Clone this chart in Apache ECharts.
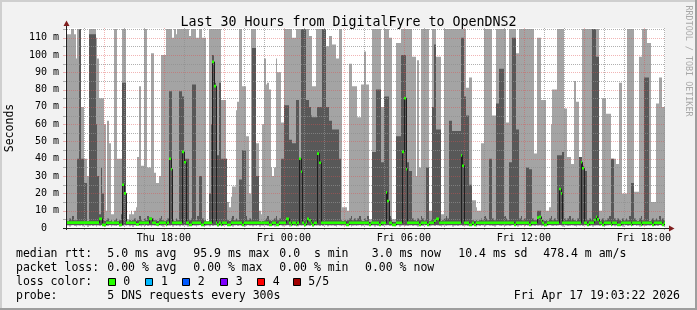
<!DOCTYPE html>
<html><head><meta charset="utf-8">
<script src="https://cdn.jsdelivr.net/npm/echarts@6/dist/echarts.min.js"></script>
<style>html,body{margin:0;padding:0;background:#f2f2f2}#c{width:697px;height:310px}</style>
</head><body><div id="c"></div>
<script>
const FONT = '"DejaVu Sans Mono", monospace';
const stepMinutes = 5;
const firstBinMinute = 13 * 60 + 5;            // Thu 13:05 (minutes since Thu 00:00)
const axisStartHour = 13 + 3 / 60 + 22 / 3600; // Thu 13:03:22
const axisEndHour = axisStartHour + 30;        // Fri 19:03:22
const yMaxMs = 115.6;

// five sorted pings per step (ms): min, 2nd, median, 4th, max
const minPing = [
1.2,1.5,0.8,1.4,1.6,1.1,0.9,1.5,1.3,1.6,1.0,1.4,
1.5,0.7,1.3,1.6,1.2,1.4,0.9,1.5,1.1,1.6,1.3,0.8,
1.4,1.2,1.6,0.9,1.5,1.3,1.1,1.6,0.8,1.4,1.2,1.5,
1.3,1.6,1.0,1.4,0.7,1.5,1.2,1.6,1.3,0.9,1.5,1.1,
1.6,1.2,1.4,0.8,1.5,1.3,1.6,1.0,1.4,1.2,0.9,1.5,
1.1,1.5,1.3,1.6,0.8,1.4,1.2,1.5,1.0,1.6,1.3,1.4,
1.4,0.9,1.6,1.2,1.5,1.3,0.8,1.4,1.6,1.1,1.5,1.2,
1.3,1.5,1.0,1.6,1.2,1.4,1.5,0.9,1.3,1.6,1.1,1.4,
1.6,1.2,1.5,1.3,0.8,1.4,1.6,1.1,1.5,1.2,1.4,0.9,
1.2,1.6,1.3,1.5,1.0,1.4,1.2,1.6,0.8,1.5,1.3,1.4,
1.5,1.1,1.4,1.6,1.3,0.9,1.5,1.2,1.6,1.4,1.0,1.3,
1.4,1.6,0.8,1.3,1.5,1.2,1.6,1.0,1.4,1.3,1.5,1.1,
1.3,1.5,1.2,1.6,0.9,1.4,1.3,1.5,1.1,1.6,1.2,1.4,
1.6,1.0,1.4,1.3,1.5,1.2,0.8,1.6,1.4,1.1,1.5,1.3,
1.2,1.4,1.6,0.9,1.3,1.5,1.2,1.4,1.6,1.0,1.3,1.5,
1.5,1.3,1.1,1.6,1.4,0.8,1.5,1.2,1.3,1.6,1.1,1.4,
1.4,1.6,1.2,1.3,1.5,1.0,1.4,1.6,0.9,1.3,1.5,1.2,
1.3,1.1,1.5,1.6,1.2,1.4,1.3,0.8,1.6,1.5,1.2,1.4,
1.6,1.4,1.0,1.3,1.5,1.2,1.6,1.4,1.1,0.9,1.5,1.3,
1.2,1.5,1.4,1.6,0.8,1.3,1.5,1.2,1.4,1.6,1.1,1.3,
1.5,1.2,1.6,1.1,1.4,1.3,0.9,1.5,1.2,1.6,1.4,1.0,
1.4,1.6,1.3,1.5,1.2,0.8,1.4,1.6,1.3,1.1,1.5,1.2,
1.3,1.5,1.1,1.4,1.6,1.2,1.5,0.9,1.4,1.3,1.6,1.2,
1.6,1.3,1.5,1.0,1.4,1.2,1.6,1.3,1.5,0.8,1.2,1.4,
1.2,1.4,1.6,1.3,1.1,1.5,1.2,1.4,1.6,1.3,0.9,1.5,
1.5,1.1,1.3,1.6,1.4,1.2,0.8,1.5,1.3,1.6,1.2,1.4,
1.4,1.6,1.2,1.5,0.9,1.3,1.5,1.4,1.1,1.6,1.3,1.2,
1.3,1.5,1.6,1.2,1.4,1.0,1.3,1.5,1.6,1.2,0.8,1.4,
1.6,1.2,1.4,1.5,1.3,1.6,1.1,1.4,0.9,1.5,1.3,1.2,
1.2,1.5,1.3,1.6,1.4,1.1,1.5,1.2,1.6,1.3,1.4,0.9];

const secondPing = [
1.8,1.7,1.8,1.8,1.7,1.8,1.7,1.8,1.8,1.7,1.8,1.7,
1.7,1.8,1.8,1.7,1.8,1.7,1.8,1.7,1.8,1.8,1.7,1.8,
1.8,1.8,1.7,1.8,1.7,1.8,1.8,1.7,1.8,1.7,1.8,1.8,
1.7,1.8,1.8,1.7,1.8,1.7,1.8,1.8,1.7,1.8,1.7,1.8,
1.8,1.7,1.8,1.8,1.7,1.8,1.7,1.8,1.8,1.7,1.8,1.7,
1.7,1.8,1.7,1.8,1.8,1.7,1.8,1.7,1.8,1.8,1.7,1.8,
1.8,1.8,1.7,1.8,1.7,1.8,1.8,1.7,1.8,1.7,1.8,1.8,
1.7,1.8,1.8,1.7,1.8,1.7,1.8,1.8,1.7,1.8,1.7,1.8,
1.8,1.7,1.8,1.8,1.7,1.8,1.7,1.8,1.8,1.7,1.8,1.7,
1.7,1.8,1.7,1.8,1.8,1.7,1.8,1.7,1.8,1.8,1.7,1.8,
1.8,1.8,1.7,1.8,1.7,1.8,1.8,1.7,1.8,1.7,1.8,1.8,
1.7,1.8,1.8,1.7,1.8,1.7,1.8,1.8,1.7,1.8,1.7,1.8,
1.8,1.7,1.8,1.8,1.7,1.8,1.7,1.8,1.8,1.7,1.8,1.7,
1.7,1.8,1.7,1.8,1.8,1.7,1.8,1.7,1.8,1.8,1.7,1.8,
1.8,1.8,1.7,1.8,1.7,1.8,1.8,1.7,1.8,1.7,1.8,1.8,
1.7,1.8,1.8,1.7,1.8,1.7,1.8,1.8,1.7,1.8,1.7,1.8,
1.8,1.7,1.8,1.8,1.7,1.8,1.7,1.8,1.8,1.7,1.8,1.7,
1.7,1.8,1.7,1.8,1.8,1.7,1.8,1.7,1.8,1.8,1.7,1.8,
1.8,1.8,1.7,1.8,1.7,1.8,1.8,1.7,1.8,1.7,1.8,1.8,
1.7,1.8,1.8,1.7,1.8,1.7,1.8,1.8,1.7,1.8,1.7,1.8,
1.8,1.7,1.8,1.8,1.7,1.8,1.7,1.8,1.8,1.7,1.8,1.7,
1.7,1.8,1.7,1.8,1.8,1.7,1.8,1.7,1.8,1.8,1.7,1.8,
1.8,1.8,1.7,1.8,1.7,1.8,1.8,1.7,1.8,1.7,1.8,1.8,
1.7,1.8,1.8,1.7,1.8,1.7,1.8,1.8,1.7,1.8,1.7,1.8,
1.8,1.7,1.8,1.8,1.7,1.8,1.7,1.8,1.8,1.7,1.8,1.7,
1.7,1.8,1.7,1.8,1.8,1.7,1.8,1.7,1.8,1.8,1.7,1.8,
1.8,1.8,1.7,1.8,1.7,1.8,1.8,1.7,1.8,1.7,1.8,1.8,
1.7,1.8,1.8,1.7,1.8,1.7,1.8,1.8,1.7,1.8,1.7,1.8,
1.8,1.7,1.8,1.8,1.7,1.8,1.7,1.8,1.8,1.7,1.8,1.7,
1.7,1.8,1.7,1.8,1.8,1.7,1.8,1.7,1.8,1.8,1.7,1.8];

const medianPing = [
3.1,3.1,3.1,3.1,3.1,3.1,3.1,3.1,3.1,3.1,3.1,3.1,
3.1,3.1,3.1,3.1,3.1,3.1,3.1,3.1,5.3,5.3,1.8,1.8,
3.0,3.0,3.0,3.0,3.0,3.0,3.0,3.0,1.8,1.8,25,20,
3.0,3.0,3.0,3.0,3.0,3.0,2.1,2.1,3.0,3.0,3.0,3.0,
3.0,3.0,5.3,5.3,3.0,3.0,2.1,2.1,3.0,3.0,3.0,3.0,
1.8,3.0,40,34,3.0,3.0,3.0,3.0,3.0,3.0,44,38,
3.0,3.0,1.8,1.8,3.0,3.0,3.0,3.0,3.0,1.8,1.8,3.0,
3.0,3.0,3.0,3.0,96,82,3.0,1.8,3.0,1.8,3.0,3.0,
3.0,1.8,1.8,3.0,3.0,3.0,3.0,3.0,3.0,3.0,1.8,3.0,
3.0,3.0,3.0,3.0,3.0,3.0,3.0,3.0,3.0,3.0,3.0,3.0,
3.0,3.0,1.8,1.8,3.0,3.0,1.8,1.8,3.0,3.0,3.0,3.0,
5.3,5.3,3.0,1.8,3.0,3.0,1.8,3.0,40,32.5,3.0,1.8,
3.0,5.3,4.5,3.0,1.8,3.0,3.0,43,37.7,3.0,3.0,3.0,
3.0,3.0,3.0,3.0,3.0,3.0,3.0,3.0,3.0,3.0,3.0,3.0,
1.8,1.8,3.0,3.0,3.0,3.0,3.0,3.0,3.0,3.0,3.0,3.0,
3.0,3.0,1.8,3.0,3.0,3.0,3.0,3.0,1.8,3.0,3.0,3.0,
20.6,15.6,3.0,3.0,1.8,1.8,3.0,3.0,3.0,3.0,44,75,
34,3.0,3.0,3.0,3.0,3.0,3.0,3.0,1.8,3.0,3.0,3.0,
3.0,1.8,3.0,3.0,3.0,4.2,5.3,5.3,3.0,3.0,3.0,3.0,
3.0,3.0,3.0,3.0,3.0,3.0,3.0,3.0,3.0,42,36,3.0,
3.0,3.0,1.8,1.8,3.0,1.8,3.0,3.0,3.0,3.0,3.0,3.0,
3.0,3.0,3.0,3.0,3.0,3.0,3.0,3.0,3.0,3.0,3.0,3.0,
3.0,3.0,3.0,3.0,3.0,1.8,3.0,3.0,3.0,3.0,3.0,3.0,
3.0,3.0,1.8,3.0,3.0,3.0,3.0,6.0,6.5,4.5,3.0,1.8,
1.8,3.0,3.0,3.0,3.0,3.0,3.0,3.0,22.5,20,3.0,3.0,
3.0,3.0,3.0,3.0,3.0,3.0,3.0,3.0,3.0,38,34.5,3.0,
3.0,1.8,3.0,3.0,3.0,4.6,6.5,5.0,3.0,3.0,1.8,3.0,
3.0,3.0,3.0,1.8,3.0,3.0,3.0,1.8,1.8,3.0,3.0,3.0,
3.0,3.0,3.0,1.8,3.0,3.0,3.0,3.0,3.0,1.8,3.0,3.0,
3.0,3.0,3.0,3.0,1.8,3.0,3.0,3.0,3.0,3.0,1.8,3.0];

const fourthPing = [
4.5,4,5.5,4.5,7,4.5,4.5,40,115,40,40,26,
26,4,112,112,112,112,60,30,8,35,20,4,
4.5,5.5,4,4.5,3.5,4.5,5.5,4,4.5,8,84,84,
3.5,3.5,4.5,4,4.5,5.5,4,4.5,7,4.5,4,5.5,
4.5,7,6,6,5.5,4.5,4.5,4,5.5,7,4.5,4,
4.5,5.5,79,79,4.5,4,5.5,4.5,79,79,76,40,
40,40,4.5,5.5,83,83,4.5,7,30,30,5.5,4.5,
3.6,3.6,20,60,100,84,42,42,84,40,40,40,
40,4.5,4,5.5,7,4.5,5.5,4.5,28,28,45,45,
7,4.5,5.5,4.5,104,104,30,30,4,3.5,4,4.5,
5.5,7,4.5,4,4.5,5.5,7,4.5,5.5,40,40,71,
71,71,51,51,49,49,74,74,40,115,115,115,
74,74,70,65,64,64,64,70,70,70,115,115,
70,70,62,62,57,57,57,57,40,4.5,4,4.5,
4,4.5,5.5,7,4.5,5.5,4.5,5.5,7,4.5,4,5.5,
4.5,7,3.5,3.5,44,44,80,80,80,38,38,76,
76,76,7,5.5,3.5,3.5,53,53,53,100,100,100,
38,38,33,33,5.5,4.5,4,5.5,4.5,7,5.5,4.5,
35,35,4,4.5,70,106,57,57,57,4,4.5,5.5,
7,5.5,62,62,56,56,56,56,56,110,110,76,
65,65,25,25,4.5,4,4.5,4,4.5,5.5,4.5,7,
5.5,4.5,40,40,5.5,4.5,72,72,92,92,92,7,
5.5,4.5,38,38,110,110,57,57,5.5,7,4.5,5.5,
35,35,34,34,5.5,4.5,4.5,10,10,5.5,4.5,4,
4.5,4,5.5,7,4.5,5.5,4.5,42,42,42,44,5.5,
4.5,5.5,7,4.5,5.5,4.5,4,5.5,41,41,36,33,
33,4.5,5.5,4.5,115,115,99,99,4,4.5,5.5,4.5,
4.5,5.5,7,40,40,5.5,4.5,5.5,4.5,4,5.5,4.5,
5.5,4.5,7,26,26,5.5,4.5,4,5.5,7,4.5,87,
87,87,4,4.5,5.5,4.5,5.5,4.5,7,4.5,5.5,4.5];

const maxPing = [
84,112,112,115,115,112,98,115,115,70,70,40,
40,30,115,115,115,115,110,98,75,75,75,60,
10,62,49,8,8,115,115,40,40,40,115,115,
5,5,8,10,8,10,12,41,82,36,36,115,
115,35,35,101,101,32,26,26,30,100,100,100,
115,115,115,115,110,115,112,115,115,115,115,115,
115,115,111,115,115,115,110,110,115,115,110,110,
4,4,115,115,115,115,115,115,115,74,74,74,
40,15,12,18,24,24,68,73,115,115,82,82,
53,53,20,115,115,115,49,49,10,8,60,98,
83,84,80,35,30,35,98,90,90,61,61,115,
115,115,115,115,110,110,115,115,115,115,115,115,
115,115,111,111,82,82,115,115,115,115,115,115,
105,105,111,111,106,106,98,98,115,115,12,12,
12,10,95,95,82,82,82,64,64,83,83,102,
83,83,5,5,115,115,115,115,115,70,70,115,
115,115,110,110,5,5,107,107,107,115,115,115,
115,115,115,115,99,99,30,97,35,115,115,115,
115,115,10,10,115,115,99,99,99,8,8,115,
115,115,115,115,115,115,115,115,115,115,115,115,
81,81,87,87,16,16,12,10,10,49,49,115,
115,115,115,115,65,65,115,115,115,115,115,115,
61,61,115,115,115,115,101,101,115,115,115,115,
115,115,115,115,115,43,43,110,110,74,74,74,
10,10,12,60,80,80,80,115,115,115,115,69,
69,41,41,37,37,85,73,73,41,41,115,115,
115,115,115,115,115,115,115,115,10,10,75,75,
66,66,66,40,40,40,37,37,84,84,20,20,
20,115,115,115,115,21,21,21,99,99,115,115,
115,107,107,15,15,15,72,72,87,87,70,70];

const xTickHours = [18, 24, 30, 36, 42];
const xTickLabels = ['Thu 18:00', 'Fri 00:00', 'Fri 06:00', 'Fri 12:00', 'Fri 18:00'];
const minorGridHours = [14,16,17,19,20,22,23,25,26,28,29,31,32,34,35,37,38,40,41,43];
const majorGridHours = [15,18,21,24,27,30,33,36,39,42];
const minorGridMs = [5,15,25,35,45,55,65,75,85,95,105,115];
const majorGridMs = [10,20,30,40,50,60,70,80,90,100,110];

const lossColors = ['#26ff00', '#00b8ff', '#0059ff', '#7e00ff', '#ff0000', '#a10000'];
const lossLabels = ['0', '1', '2', '3', '4', '5/5'];

const binStart = k => (firstBinMinute + k * stepMinutes) / 60;
const smokeData = maxPing.map((v, k) => [binStart(k), binStart(k + 1), minPing[k], secondPing[k], fourthPing[k], v]);
const medData = medianPing.map((m, k) => [binStart(k), binStart(k + 1), m, k > 0 ? medianPing[k - 1] : m]);

function renderSmoke(params, api) {
  const a = api.coord([api.value(0), api.value(2)]);
  const b = api.coord([api.value(1), api.value(5)]);
  const c = api.coord([api.value(0), api.value(3)]);
  const d = api.coord([api.value(1), api.value(4)]);
  const xl = Math.round(a[0]), xr = Math.round(b[0]);
  return { type: 'group', children: [
    { type: 'rect', shape: { x: xl, y: b[1], width: xr - xl, height: a[1] - b[1] }, style: { fill: '#a4a4a4' } },
    { type: 'rect', shape: { x: xl, y: d[1], width: xr - xl, height: c[1] - d[1] }, style: { fill: '#585858' } }
  ]};
}
function renderMedLine(params, api) {
  const p = api.coord([api.value(0), api.value(2)]);
  const q = api.coord([api.value(1), api.value(2)]);
  const r = api.coord([api.value(0), api.value(3)]);
  const x0 = Math.round(p[0]) + 0.5, x1 = Math.round(q[0]) + 0.5;
  return { type: 'polyline', shape: { points: [[x0, r[1]], [x0, p[1]], [x1, p[1]]] },
           style: { stroke: '#202020', lineWidth: 1, fill: null } };
}
function renderMedBand(params, api) {
  const p = api.coord([api.value(0), api.value(2)]);
  const q = api.coord([api.value(1), api.value(2)]);
  const xl = Math.round(p[0]), xr = Math.round(q[0]);
  return { type: 'rect', shape: { x: xl, y: p[1] - 1.3, width: xr - xl, height: 2.6 }, style: { fill: lossColors[0] } };
}
function vGrid(color) {
  return function (params, api) {
    const top = api.coord([api.value(0), yMaxMs]);
    const bot = api.coord([api.value(0), 0]);
    const x = Math.round(bot[0]) + 0.5;
    return { type: 'group', children: [
      { type: 'line', shape: { x1: x, y1: top[1], x2: x, y2: bot[1] }, style: { stroke: color, lineWidth: 1, lineDash: [1, 1] } },
      { type: 'line', shape: { x1: x, y1: bot[1], x2: x, y2: bot[1] + 2 }, style: { stroke: color, lineWidth: 1 } }
    ]};
  };
}
function hGrid(color) {
  return function (params, api) {
    const l = api.coord([axisStartHour, api.value(1)]);
    const r = api.coord([axisEndHour, api.value(1)]);
    const y = Math.round(l[1]) + 0.5;
    return { type: 'group', children: [
      { type: 'line', shape: { x1: l[0], y1: y, x2: r[0], y2: y }, style: { stroke: color, lineWidth: 1, lineDash: [1, 1] } },
      { type: 'line', shape: { x1: l[0] - 2, y1: y, x2: l[0], y2: y }, style: { stroke: color, lineWidth: 1 } }
    ]};
  };
}
const GRID_MINOR = 'rgba(143,143,143,0.7)';
const GRID_MAJOR = 'rgba(222,79,79,0.42)';

const legendFont = '11.5px ' + FONT;
function txt(x, y, text, extra) {
  return Object.assign({ type: 'text', x: x, y: y, style: { text: text, font: legendFont, fill: '#000', textAlign: 'left', textVerticalAlign: 'middle', align: 'left', verticalAlign: 'middle' } }, extra || {});
}
const swatchX = [108.5, 145.5, 182.5, 220.5, 257.5, 293.5];
const swatchLabelX = [123.3, 161, 197.7, 235.7, 272.7, 308.3];

const graphics = [
  { type: 'rect', shape: { x: 0, y: 0, width: 697, height: 2 }, style: { fill: '#cfcfcf' } },
  { type: 'rect', shape: { x: 0, y: 0, width: 2, height: 310 }, style: { fill: '#cfcfcf' } },
  { type: 'rect', shape: { x: 0, y: 308, width: 697, height: 2 }, style: { fill: '#9e9e9e' } },
  { type: 'rect', shape: { x: 695, y: 0, width: 2, height: 310 }, style: { fill: '#9e9e9e' } },
  { type: 'line', shape: { x1: 63, y1: 228.5, x2: 669, y2: 228.5 }, style: { stroke: '#1f1f1f', lineWidth: 1 }, z: 100 },
  { type: 'line', shape: { x1: 66.5, y1: 230, x2: 66.5, y2: 25 }, style: { stroke: '#1f1f1f', lineWidth: 1 }, z: 100 },
  { type: 'polygon', shape: { points: [[669, 225.5], [669, 231.5], [674.5, 228.5]] }, style: { fill: '#801f1f' }, z: 100 },
  { type: 'polygon', shape: { points: [[63.5, 26], [69.5, 26], [66.5, 20.5]] }, style: { fill: '#801f1f' }, z: 100 },
  { type: 'text', x: 10, y: 128, rotation: Math.PI / 2, style: { text: 'Seconds', font: '11.5px ' + FONT, fill: '#000', textAlign: 'center', textVerticalAlign: 'middle', align: 'center', verticalAlign: 'middle' } },
  { type: 'text', x: 688, y: 61, rotation: -Math.PI / 2, style: { text: 'RRDTOOL / TOBI OETIKER', font: '8.4px ' + FONT, fill: '#a8a8a8', textAlign: 'center', textVerticalAlign: 'middle', align: 'center', verticalAlign: 'middle' } },
  txt(16, 254, 'median rtt:'), txt(107.3, 254, '5.0 ms avg'), txt(193.3, 254, '95.9 ms max'),
  txt(279.3, 254, '0.0  s min'), txt(371.7, 254, '3.0 ms now'), txt(458.3, 254, '10.4 ms sd'), txt(543.3, 254, '478.4 m am/s'),
  txt(16, 268, 'packet loss:'), txt(107.3, 268, '0.00 % avg'), txt(193.3, 268, '0.00 % max'),
  txt(279.3, 268, '0.00 % min'), txt(365, 268, '0.00 % now'),
  txt(16, 282, 'loss color:'),
  txt(16, 296, 'probe:'), txt(107.3, 296, '5 DNS requests every 300s'),
  { type: 'text', x: 680, y: 296, style: { text: 'Fri Apr 17 19:03:22 2026', font: legendFont, fill: '#000', textAlign: 'right', textVerticalAlign: 'middle', align: 'right', verticalAlign: 'middle' } }
];
lossColors.forEach((c, i) => {
  graphics.push({ type: 'rect', shape: { x: swatchX[i], y: 278.5, width: 7, height: 7 }, style: { fill: c, stroke: '#000', lineWidth: 1 } });
  graphics.push(txt(swatchLabelX[i], 282, lossLabels[i]));
});

const chart = echarts.init(document.getElementById('c'), null, { renderer: 'canvas' });
chart.setOption({
  animation: false,
  backgroundColor: '#f2f2f2',
  title: { text: 'Last 30 Hours from DigitalFyre to OpenDNS2', left: 'center', top: 11,
    textStyle: { fontFamily: FONT, fontSize: 13.3, fontWeight: 'normal', color: '#000' } },
  grid: { left: 65, top: 28, width: 600, height: 200, show: true, backgroundColor: '#ffffff', borderWidth: 0 },
  xAxis: { type: 'value', min: axisStartHour, max: axisEndHour,
    axisLine: { show: false }, axisTick: { show: false }, splitLine: { show: false },
    axisLabel: { customValues: xTickHours, margin: 5, fontFamily: FONT, fontSize: 10, color: '#000',
      formatter: v => { const i = xTickHours.findIndex(h => Math.abs(h - v) < 1e-6); return i >= 0 ? xTickLabels[i] : ''; } } },
  yAxis: { type: 'value', min: 0, max: yMaxMs, interval: 10,
    axisLine: { show: false }, axisTick: { show: false }, splitLine: { show: false },
    axisLabel: { margin: 6, fontFamily: FONT, fontSize: 10, color: '#000', showMaxLabel: false,
      formatter: v => (Math.abs(v % 10) > 1e-6 || v > 110.5) ? '' : (v === 0 ? '0  ' : v + ' m') } },
  graphic: graphics,
  series: [
    { type: 'custom', name: 'smoke', data: smokeData, renderItem: renderSmoke, clip: true, z: 2, silent: true, encode: { x: [0, 1], y: [2, 5] } },
    { type: 'custom', name: 'minorV', data: minorGridHours.map(h => [h, 0]), renderItem: vGrid(GRID_MINOR), clip: false, z: 3, silent: true, encode: { x: 0, y: 1 } },
    { type: 'custom', name: 'minorH', data: minorGridMs.map(v => [axisStartHour, v]), renderItem: hGrid(GRID_MINOR), clip: false, z: 3, silent: true, encode: { x: 0, y: 1 } },
    { type: 'custom', name: 'majorV', data: majorGridHours.map(h => [h, 0]), renderItem: vGrid(GRID_MAJOR), clip: false, z: 3, silent: true, encode: { x: 0, y: 1 } },
    { type: 'custom', name: 'majorH', data: majorGridMs.map(v => [axisStartHour, v]), renderItem: hGrid(GRID_MAJOR), clip: false, z: 3, silent: true, encode: { x: 0, y: 1 } },
    { type: 'custom', name: 'medianLine', data: medData, renderItem: renderMedLine, clip: true, z: 4, silent: true, encode: { x: [0, 1], y: [2, 3] } },
    { type: 'custom', name: 'medianBand', data: medData, renderItem: renderMedBand, clip: true, z: 5, silent: true, encode: { x: [0, 1], y: 2 } }
  ]
});
</script></body></html>
